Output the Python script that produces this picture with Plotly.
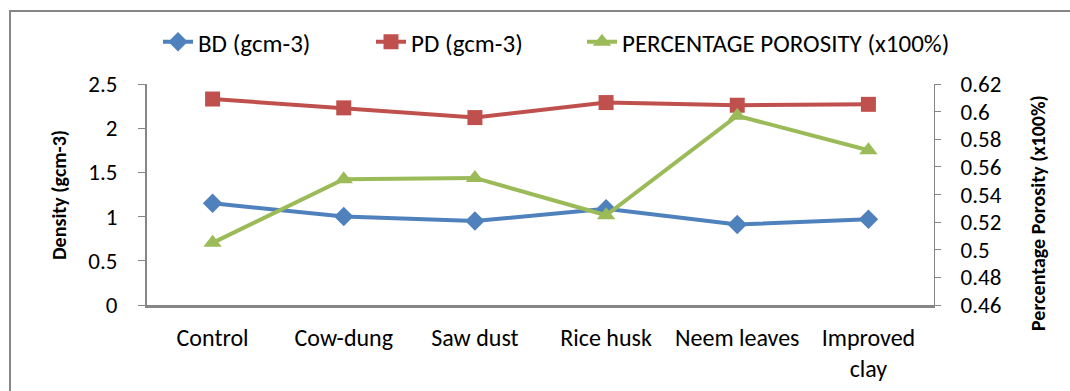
import plotly.graph_objects as go

categories = ["Control", "Cow-dung", "Saw dust", "Rice husk", "Neem leaves", "Improved<br>clay"]
bd = [1.15, 1.00, 0.95, 1.09, 0.91, 0.97]
pd_vals = [2.33, 2.23, 2.12, 2.29, 2.26, 2.27]
porosity = [0.505, 0.551, 0.552, 0.525, 0.597, 0.572]

left_ticks = [0, 0.5, 1, 1.5, 2, 2.5]
right_ticks = [0.46, 0.48, 0.5, 0.52, 0.54, 0.56, 0.58, 0.6, 0.62]

FONT = "Carlito, Calibri, 'Liberation Sans Narrow', 'Open Sans', sans-serif"
GRAY = "#868686"
L, R, T, B = 147, 136, 84, 86
PW, PH = 1070 - L - R, 391 - T - B


def px(x):
    return (x - L) / PW


def py(y):
    return (391 - B - y) / PH


fig = go.Figure()
fig.add_trace(go.Scatter(x=categories, y=bd, name="BD (gcm-3)", mode="lines+markers",
                         line=dict(color="#4F81BD", width=4), legend="legend",
                         marker=dict(symbol="diamond", size=15, color="#4F81BD")))
fig.add_trace(go.Scatter(x=categories, y=pd_vals, name="PD (gcm-3)", mode="lines+markers",
                         line=dict(color="#C0504D", width=4), legend="legend2",
                         marker=dict(symbol="square", size=15, color="#C0504D")))
fig.add_trace(go.Scatter(x=categories, y=porosity, name="PERCENTAGE POROSITY (x100%)", mode="lines+markers",
                         yaxis="y2", legend="legend3",
                         line=dict(color="#9BBB59", width=4),
                         marker=dict(symbol="triangle-up", size=16, color="#9BBB59")))

leg_common = dict(orientation="h", xanchor="left", y=py(42), yanchor="middle",
                  font=dict(size=25), bgcolor="rgba(0,0,0,0)")

fig.update_layout(
    width=1070, height=391,
    margin=dict(l=L, r=R, t=T, b=B, autoexpand=False),
    paper_bgcolor="white", plot_bgcolor="white",
    font=dict(family=FONT, size=22, color="#000000"),
    showlegend=True,
    legend=dict(x=px(158), **leg_common),
    legend2=dict(x=px(371), **leg_common),
    legend3=dict(x=px(582), **leg_common),
    xaxis=dict(showline=True, linecolor=GRAY, linewidth=3, showgrid=False, zeroline=False,
               ticks="", ticklabelstandoff=9, tickfont=dict(size=24),
               range=[-0.5, 5.5]),
    yaxis=dict(range=[0, 2.5], tickvals=left_ticks, showline=True, linecolor=GRAY, linewidth=2,
               ticks="outside", ticklen=7, tickcolor=GRAY, showgrid=False, zeroline=False,
               ticklabelstandoff=16, tickfont=dict(size=23)),
    yaxis2=dict(range=[0.46, 0.62], tickvals=right_ticks, overlaying="y", side="right",
                showline=True, linecolor=GRAY, linewidth=1, ticks="outside", ticklen=6,
                tickcolor=GRAY, showgrid=False, zeroline=False,
                ticklabelstandoff=15, tickfont=dict(size=23)),
    shapes=[dict(type="rect", xref="paper", yref="paper",
                 x0=px(10), x1=px(1110), y0=py(410), y1=py(11),
                 line=dict(color=GRAY, width=2), fillcolor="rgba(0,0,0,0)", layer="below")],
    annotations=[
        dict(text="<b>Density (gcm-3)</b>", textangle=-90, xref="paper", yref="paper",
             x=px(59), y=py(195), xanchor="center", yanchor="middle",
             showarrow=False, font=dict(size=20)),
        dict(text="<b>Percentage Porosity (x100%)</b>", textangle=-90, xref="paper", yref="paper",
             x=px(1038), y=py(213), xanchor="center", yanchor="middle",
             showarrow=False, font=dict(size=20)),
    ],
)

fig.write_html("out.html", config={"displayModeBar": False},
               post_script="document.body.style.margin='0';")
